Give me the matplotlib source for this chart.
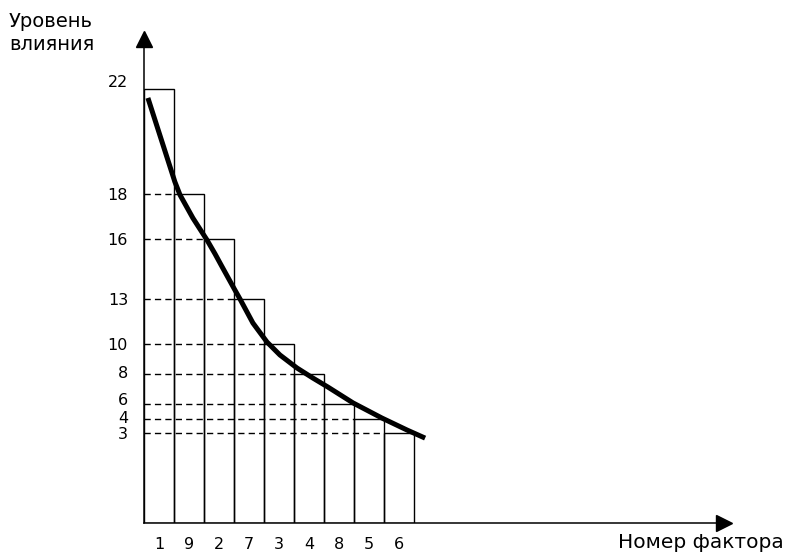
import numpy as np
import matplotlib.pyplot as plt
from matplotlib.transforms import ScaledTranslation

# факторы в порядке убывания влияния
factors = ['1', '9', '2', '7', '3', '4', '8', '5', '6']
influence = [22, 18, 16, 13, 10, 8, 6, 4, 3]

# сглаженная кривая поверх столбцов
curve_x = [-0.37, 0.53, 0.70, 1.13, 1.60, 1.87, 2.07, 2.53, 2.70, 3.13, 3.60,
           4.03, 4.60, 5.13, 5.63, 6.47, 7.43, 8.27, 8.87]
curve_y = [21.66, 18.46, 17.96, 16.93, 15.95, 15.25, 14.7, 13.45, 13.0, 11.4, 10.13,
           9.27, 8.4, 7.73, 7.13, 6.07, 4.13, 3.21, 2.83]

# шкала на рисунке не в масштабе: высота отметок над осью, px
level_vals = [0, 3, 4, 6, 8, 10, 13, 16, 18, 22, 25]
level_px = [0, 90, 104, 119, 149, 179, 224, 284, 329, 434, 513]


def fwd(v):
    return np.interp(v, level_vals, level_px)


def inv(p):
    return np.interp(p, level_px, level_vals)


plt.rcParams['font.family'] = 'DejaVu Sans'

W, H = 787, 554
fig = plt.figure(figsize=(W / 100, H / 100), dpi=100)
x0, x1, yb, yt = 144, 724, 523, 38.5
ax = fig.add_axes([x0 / W, (H - yb) / H, (x1 - x0) / W, (yb - yt) / H])
ax.set_yscale('function', functions=(fwd, inv))

ax.bar(range(len(factors)), influence, width=1.0, fill=False,
       edgecolor='black', linewidth=1.0)

# пунктир от оси до каждого столбца
pos = np.arange(1, len(factors))
ax.hlines(influence[1:], -0.5, pos - 0.5, colors='black',
          linestyles=(0, (4.5, 3)), linewidth=1.0)

ax.plot(curve_x, curve_y, color='black', lw=3.6, solid_capstyle='butt',
        solid_joinstyle='round')

ax.set_xlim(-0.5, -0.5 + (x1 - x0) / 30)
ax.set_ylim(0, inv(yb - yt))

ax.set_xticks(range(len(factors)))
ax.set_xticklabels(factors, fontsize=11.5)
ax.set_yticks(influence)
ax.set_yticklabels([str(v) for v in influence], fontsize=11.5)
ax.tick_params(axis='x', length=0, pad=10)
ax.tick_params(axis='y', length=0, pad=11.5)

# некоторые подписи на рисунке чуть выше своих уровней
nudge = {'22': 8, '6': 5, '8': 2, '4': 2}
for lbl in ax.get_yticklabels():
    d = nudge.get(lbl.get_text(), 0)
    if d:
        lbl.set_transform(lbl.get_transform() +
                          ScaledTranslation(0, d / 100, fig.dpi_scale_trans))

for s in ['top', 'right']:
    ax.spines[s].set_visible(False)
for s in ['left', 'bottom']:
    ax.spines[s].set_linewidth(1.1)

# стрелки осей
ax.plot(0, 1, '^', color='black', ms=11.5, transform=ax.transAxes, clip_on=False)
ax.plot(1, 0, '>', color='black', ms=11.5, transform=ax.transAxes, clip_on=False)

fig.text(9 / W, 1 - 12 / H, 'Уровень\nвлияния', fontsize=14, va='top',
         ha='left', linespacing=1.25)
fig.text(784 / W, 1 - 543 / H, 'Номер фактора', fontsize=14.5, va='center',
         ha='right')

fig.savefig('out.png', dpi=100)
